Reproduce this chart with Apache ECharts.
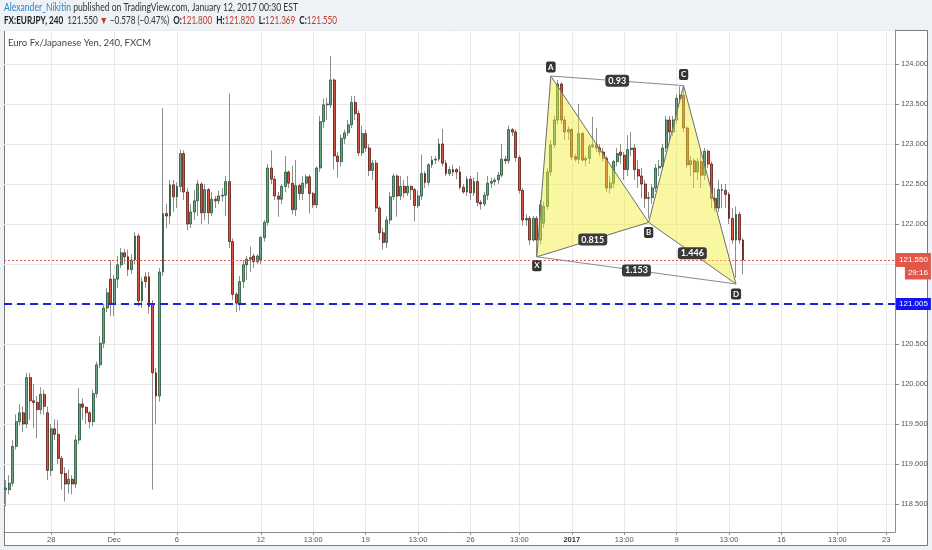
<!DOCTYPE html>
<html><head><meta charset="utf-8">
<script src="https://cdn.jsdelivr.net/npm/echarts@6.0.0/dist/echarts.min.js"></script>
<style>html,body{margin:0;padding:0;background:#eef1f5;}#c{width:932px;height:550px;}</style>
</head><body><div id="c"></div>
<script>
// ---- data (EUR/JPY, 240 min bars) ----
const opens = [
118.68,118.68,118.76,119.22,119.53,119.64,119.50,120.08,119.79,119.77,
119.68,119.87,119.64,118.92,119.44,119.37,119.07,118.88,118.75,118.81,
118.75,119.30,119.75,119.71,119.64,119.53,119.88,120.24,120.51,120.95,
121.31,121.00,121.31,121.49,121.64,121.59,121.43,121.55,121.85,121.04,121.34,
121.34,121.00,120.14,119.85,121.40,122.13,122.10,122.49,122.34,122.47,
122.88,122.40,122.00,122.15,122.29,122.50,122.14,122.43,122.14,122.31,
122.29,122.35,122.36,122.53,121.78,121.12,121.01,121.28,121.49,121.56,
121.60,121.53,121.55,121.83,122.02,122.70,122.56,122.35,122.31,122.47,
122.65,122.51,122.18,122.48,122.38,122.51,122.59,122.38,122.24,122.70,
123.28,123.49,123.49,123.80,122.85,122.78,123.07,123.14,123.24,123.52,
123.38,122.89,123.13,122.95,122.67,122.76,122.20,121.89,121.77,122.05,122.34,
122.60,122.35,122.47,122.39,122.47,122.43,122.23,122.35,122.63,122.52,
122.74,122.80,122.81,123.00,122.76,122.63,122.68,122.68,122.65,122.46,
122.40,122.56,122.39,122.53,122.27,122.25,122.36,122.51,122.53,122.55,
122.61,122.81,122.79,123.18,123.15,122.83,122.42,122.05,122.07,121.80,
122.07,121.80,122.01,122.22,122.65,122.99,123.30,123.75,123.30,123.15,
123.18,122.84,122.81,123.13,122.80,122.82,122.97,122.99,122.95,122.90,
122.82,122.45,122.51,122.78,122.90,122.86,122.68,122.93,122.95,122.68,
122.60,122.50,122.32,122.33,122.45,122.70,122.72,122.95,123.30,
123.15,123.30,123.57,123.61,123.20,122.74,122.79,122.65,122.78,
122.61,122.91,122.75,122.32,122.20,122.42,122.42,122.37,122.07,121.80,
122.12,121.800];
const closes = [
118.70,118.76,119.22,119.53,119.64,119.50,120.08,119.79,119.77,119.68,
119.87,119.72,118.92,119.44,119.37,119.07,118.88,118.75,118.81,118.75,
119.30,119.75,119.71,119.64,119.53,119.88,120.24,120.51,120.95,121.14,
121.00,121.31,121.49,121.64,121.59,121.43,121.55,121.85,121.04,121.28,121.28,
120.97,120.14,119.85,121.40,122.13,122.10,122.49,122.34,122.47,122.88,
122.40,122.00,122.15,122.29,122.50,122.14,122.43,122.14,122.31,122.29,
122.35,122.36,122.53,121.78,121.12,121.01,121.28,121.49,121.56,121.58,
121.53,121.60,121.83,122.02,122.70,122.56,122.35,122.31,122.47,122.65,
122.51,122.18,122.48,122.38,122.51,122.59,122.38,122.24,122.70,123.28,
123.49,123.50,123.80,122.85,122.78,123.07,123.14,123.24,123.52,123.38,
122.89,123.13,122.95,122.67,122.76,122.20,121.89,121.77,122.05,122.34,122.60,
122.35,122.47,122.39,122.47,122.43,122.23,122.35,122.63,122.52,122.74,
122.80,122.81,123.00,122.76,122.63,122.68,122.65,122.65,122.46,122.40,
122.56,122.39,122.53,122.27,122.25,122.36,122.51,122.53,122.55,122.61,
122.81,122.79,123.18,123.15,122.83,122.42,122.05,122.07,121.80,122.07,
121.80,122.24,122.22,122.65,122.99,123.30,123.75,123.30,123.15,123.18,
122.84,122.81,123.13,122.80,122.82,122.97,122.99,122.95,122.90,122.82,
122.45,122.51,122.78,122.88,122.86,122.68,122.93,122.95,122.68,122.60,
122.50,122.32,122.33,122.45,122.70,122.72,122.95,123.30,123.15,
123.30,123.57,123.61,123.20,122.74,122.79,122.65,122.78,122.61,
122.91,122.75,122.32,122.20,122.43,122.43,122.37,122.07,121.80,122.12,
121.80,121.550];
const lows = [
118.47,118.62,118.72,119.18,119.48,119.40,119.45,119.55,119.45,119.32,
119.62,119.62,118.80,118.85,119.30,119.00,118.68,118.53,118.63,118.62,
118.70,119.25,119.55,119.50,119.45,119.47,119.83,120.20,120.45,120.90,
120.85,120.85,121.20,121.45,121.50,121.35,121.38,121.50,120.97,120.95,121.20,
120.88,118.68,119.50,119.78,121.35,121.95,122.00,122.15,122.20,122.40,
122.30,121.92,121.95,122.05,122.10,122.00,122.05,122.00,122.10,122.20,
122.25,122.28,122.10,121.70,121.05,120.90,120.92,121.20,121.30,121.40,
121.45,121.50,121.50,121.78,121.98,122.50,122.30,122.09,122.25,122.40,
122.45,122.12,122.10,122.30,122.30,122.45,122.13,122.20,122.20,122.65,
123.20,123.30,123.45,122.68,122.58,122.72,123.00,123.10,123.20,123.30,
122.85,122.85,122.90,122.60,122.55,122.15,121.80,121.68,121.70,122.00,122.30,
122.09,122.30,122.33,122.35,122.30,122.03,122.20,122.30,122.45,122.48,
122.70,122.75,122.78,122.72,122.60,122.60,122.60,122.56,122.43,122.38,
122.35,122.30,122.35,122.22,122.18,122.22,122.30,122.45,122.48,122.50,
122.58,122.75,122.75,123.10,122.78,122.38,121.98,121.98,121.74,121.78,
121.59,121.75,121.95,122.18,122.60,122.95,123.25,123.25,123.05,123.05,
122.80,122.78,122.75,122.78,122.72,122.75,122.95,122.90,122.85,122.78,
122.40,122.38,122.45,122.72,122.75,122.55,122.60,122.85,122.55,122.45,
122.32,122.20,122.07,122.25,122.40,122.60,122.68,122.90,123.05,
123.10,123.25,123.50,123.15,122.70,122.60,122.45,122.55,122.45,
122.55,122.70,122.20,122.15,122.15,122.20,122.20,122.00,121.75,121.33,
121.75,121.369];
const highs = [
118.80,118.86,119.30,119.62,119.75,119.72,120.14,120.14,120.00,119.85,
119.96,119.93,119.72,119.50,119.56,119.55,119.10,118.96,118.93,118.86,
119.36,119.95,119.82,119.72,119.66,119.93,120.28,120.60,121.00,121.20,
121.55,121.36,121.60,121.70,121.69,121.68,121.62,121.90,121.88,121.33,121.40,
121.40,121.05,120.20,121.45,123.45,122.25,122.55,122.55,122.52,122.93,
122.92,122.45,122.25,122.42,122.55,122.52,122.50,122.45,122.40,122.35,
122.42,122.45,122.60,123.63,121.82,121.15,121.35,121.55,121.60,121.72,
121.63,121.62,121.85,122.05,122.75,122.92,122.60,122.40,122.50,122.85,
122.67,122.73,122.80,122.50,122.60,122.62,122.62,122.40,122.72,123.35,
123.57,123.58,124.10,123.82,122.90,123.12,123.18,123.30,123.60,123.60,
123.42,123.23,123.18,123.00,122.80,122.80,122.22,121.95,122.10,122.40,122.63,
122.62,122.60,122.55,122.60,122.48,122.45,122.42,122.87,122.66,122.76,
122.85,122.85,123.07,123.19,122.80,122.72,122.74,122.70,122.72,122.50,
122.60,122.60,122.58,122.65,122.30,122.40,122.60,122.58,122.58,122.65,
123.00,122.85,123.23,123.20,123.18,122.86,122.45,122.12,122.10,122.10,
122.10,122.30,122.28,122.70,123.05,123.35,123.80,123.77,123.35,123.22,
123.20,122.88,123.50,123.15,122.85,123.00,123.34,123.20,123.00,122.95,
122.85,122.60,122.80,122.95,123.00,122.90,123.11,123.15,123.00,122.80,
122.70,122.55,122.40,122.50,122.75,122.80,123.00,123.35,123.35,
123.35,123.62,123.72,123.70,123.22,122.85,122.82,122.82,122.93,
122.95,122.93,122.78,122.45,122.55,122.50,122.50,122.40,122.20,122.22,
122.15,121.820];

// harmonic pattern points (bar index, price)
const patternNames = ['X', 'A', 'B', 'C', 'D'];
const patternIdx = [152, 156, 184, 194, 209];
const patternVal = [121.59, 123.85, 122.02, 123.73, 121.25];
const ratioText = ['0.93', '0.815', '1.446', '1.153'];

// horizontal levels
const lastPrice = 121.550;
const supportLevel = 121.005;
const timerText = '29:16';

// time axis
const slotCount = 255;
const tickIndex = [13, 31, 49, 73, 88, 103, 118, 133, 147, 162, 177, 192, 207, 222, 238, 252];
const tickText = ['28', 'Dec', '6', '12', '13:00', '19', '13:00', '26', '13:00', '2017', '13:00', '9', '13:00', '16', '13:00', '23'];

// ---- build ----
const categories = Array.from({length: slotCount}, (_, i) => String(i));
const tickMap = {};
tickIndex.forEach((ix, k) => { tickMap[ix] = tickText[k]; });
const isTick = (i) => tickMap[i] !== undefined;

const wickData = opens.map((o, i) => [o, closes[i], lows[i], highs[i]]);
const bodyData = opens.map((o, i) => [o, closes[i], Math.min(o, closes[i]), Math.max(o, closes[i])]);

const last = opens.length - 1;
const red = '#c0392b';
const font = 'Lato';
const hs = 10.5;

// header text, horizontally condensed to the reference's widths
const mctx = document.createElement('canvas').getContext('2d');
function textW(t, weight) { mctx.font = (weight || 'normal') + ' ' + hs + 'px ' + font; return mctx.measureText(t).width; }
function richLine(parts) { return parts.map(p => '{' + p[0] + '|' + p[1] + '}').join(''); }
function partsW(parts) { return parts.reduce((s, p) => s + textW(p[1], p[0] === 'b' ? 'bold' : 'normal'), 0); }
const line1Parts = [['u', 'Alexander_Nikitin'], ['n', ' published on TradingView.com, January 12, 2017 00:30 EST']];
const line2Parts = [
  ['b', 'FX:EURJPY, 240'], ['n', '  ' + closes[last].toFixed(3) + ' '], ['r', '▼'], ['n', ' −0.578 (−0.47%)  '],
  ['b', 'O:'], ['r', opens[last].toFixed(3)], ['b', '  H:'], ['r', highs[last].toFixed(3)],
  ['b', '  L:'], ['r', lows[last].toFixed(3)], ['b', '  C:'], ['r', closes[last].toFixed(3)]
];
const sLine1 = 294 / partsW(line1Parts);
const sLine2 = 333 / partsW(line2Parts);
const richH = {
  u: {fill: '#2a88c8', fontSize: hs, fontFamily: font},
  b: {fill: '#222', fontSize: hs, fontWeight: 'bold', fontFamily: font},
  n: {fill: '#333', fontSize: hs, fontFamily: font},
  r: {fill: red, fontSize: hs, fontFamily: font}
};

const chart = echarts.init(document.getElementById('c'));
chart.setOption({
  animation: false,
  backgroundColor: '#eef1f5',
  textStyle: {fontFamily: font},
  graphic: [
    {type: 'rect', left: 4, top: 30, z: -10, silent: true,
     shape: {width: 923, height: 515},
     style: {fill: '#ffffff', stroke: '#7a7a7a', lineWidth: 1}},
    {type: 'text', x: 4, y: 8, scaleX: sLine1, silent: true,
     style: {text: richLine(line1Parts), rich: richH, font: hs + 'px ' + font, verticalAlign: 'middle'}},
    {type: 'text', x: 4, y: 20.5, scaleX: sLine2, silent: true,
     style: {text: richLine(line2Parts), rich: richH, font: hs + 'px ' + font, verticalAlign: 'middle'}},
    {type: 'text', left: 8, top: 38, z: 10, silent: true,
     style: {text: 'Euro Fx/Japanese Yen, 240, FXCM', fill: '#444', font: '9.5px ' + font}}
  ],
  grid: {left: 4, right: 37, top: 30, bottom: 18},
  xAxis: {
    type: 'category', data: categories, boundaryGap: true,
    axisLine: {show: true, lineStyle: {color: '#8c8c8c'}},
    axisTick: {show: true, alignWithLabel: true, length: 3, interval: (i) => isTick(i), lineStyle: {color: '#8c8c8c'}},
    axisLabel: {
      interval: (i) => isTick(i), margin: 4, color: '#555', fontSize: 7.5, fontFamily: 'Liberation Sans',
      formatter: (v, i) => { const t = tickMap[+v]; if (t === undefined) return ''; return t === '2017' ? '{b|2017}' : t; },
      rich: {b: {fontWeight: 'bold', color: '#333', fontSize: 7.5, fontFamily: 'Liberation Sans'}}
    },
    splitLine: {show: true, alignWithLabel: true, interval: (i) => isTick(i), lineStyle: {color: '#e9e9e9'}}
  },
  yAxis: {
    type: 'value', position: 'right', scale: true, min: 118.15, max: 124.425, splitNumber: 12,
    axisLine: {show: true, lineStyle: {color: '#8c8c8c'}},
    axisTick: {show: true, length: 4, lineStyle: {color: '#8c8c8c'}},
    axisLabel: {color: '#555', fontSize: 7.5, fontFamily: 'Liberation Sans', margin: 6,
      showMinLabel: false, showMaxLabel: false, formatter: (v) => v.toFixed(3)},
    splitLine: {show: true, lineStyle: {color: '#e9e9e9'}}
  },
  series: [
    {
      type: 'candlestick', name: 'wick', data: wickData, barWidth: 0.6, z: 2, silent: true,
      itemStyle: {color: '#8e8e8e', color0: '#8e8e8e', borderColor: '#8e8e8e', borderColor0: '#8e8e8e', borderWidth: 1}
    },
    {
      type: 'candlestick', name: 'body', data: bodyData, barWidth: 2.4, z: 3, silent: true,
      itemStyle: {color: '#6ba583', color0: '#d75442', borderColor: '#225437', borderColor0: '#5b1a13', borderWidth: 0.8},
      markLine: {
        symbol: 'none', silent: true, animation: false,
        data: [
          {yAxis: lastPrice,
           lineStyle: {color: '#e3574a', type: [2, 2], width: 1},
           label: {show: true, position: 'end', distance: 1,
             formatter: '{e| }\n{a|' + lastPrice.toFixed(3) + '}\n{t|' + timerText + '}',
             rich: {
               e: {fontSize: 8, lineHeight: 13, height: 13, color: 'transparent'},
               a: {fontSize: 8, lineHeight: 13, height: 12, color: '#fff', backgroundColor: '#e3574a', padding: [1, 3], fontFamily: 'Liberation Sans'},
               t: {fontSize: 8, lineHeight: 13, height: 11, color: '#fff', backgroundColor: '#e3574a', padding: [1, 3], align: 'right', fontFamily: 'Liberation Sans'}
             }}},
          {yAxis: supportLevel,
           lineStyle: {color: '#2222dd', type: [8, 5], width: 2},
           label: {show: true, position: 'end', distance: 1, formatter: supportLevel.toFixed(3),
             color: '#fff', backgroundColor: '#1414f0', padding: [2, 3], fontSize: 8, fontFamily: 'Liberation Sans'}}
        ]
      }
    },
    {
      type: 'custom', name: 'pattern', z: 5, silent: true, clip: false,
      data: [[patternIdx[0], patternVal[0]]],
      renderItem: function (params, api) {
        const P = patternIdx.map((ix, k) => api.coord([ix, patternVal[k]]));
        const [X, A, B, C, D] = P;
        const fill = 'rgba(245, 238, 50, 0.45)';
        const edge = '#6e6e6e';
        const thin = '#8a8a8a';
        const children = [
          {type: 'polygon', shape: {points: [X, A, B]}, style: {fill: fill, stroke: edge, lineWidth: 1}},
          {type: 'polygon', shape: {points: [B, C, D]}, style: {fill: fill, stroke: edge, lineWidth: 1}},
          {type: 'line', shape: {x1: A[0], y1: A[1], x2: C[0], y2: C[1]}, style: {stroke: thin, lineWidth: 1}},
          {type: 'line', shape: {x1: X[0], y1: X[1], x2: D[0], y2: D[1]}, style: {stroke: thin, lineWidth: 1}}
        ];
        const pairs = [[1, 3], [0, 2], [2, 4], [0, 4]];
        pairs.forEach((pr, k) => {
          const p = P[pr[0]], q = P[pr[1]];
          children.push({type: 'text', x: (p[0] + q[0]) / 2, y: (p[1] + q[1]) / 2, z2: 10,
            style: {text: ratioText[k], fill: '#fff', font: 'bold 9px ' + font, align: 'center', verticalAlign: 'middle',
              backgroundColor: '#3a3a3a', padding: [2, 3, 1, 3], borderRadius: 3}});
        });
        const dy = {X: 9, A: -9, B: 10, C: -11, D: 10};
        patternNames.forEach((nm, k) => {
          children.push({type: 'text', x: P[k][0], y: P[k][1] + dy[nm], z2: 10,
            style: {text: nm, fill: '#fff', font: 'bold 8px ' + font, align: 'center', verticalAlign: 'middle',
              backgroundColor: '#333', padding: [2, 2, 1, 2], borderRadius: 2}});
        });
        return {type: 'group', children: children};
      }
    }
  ]
});
</script>
</body></html>
